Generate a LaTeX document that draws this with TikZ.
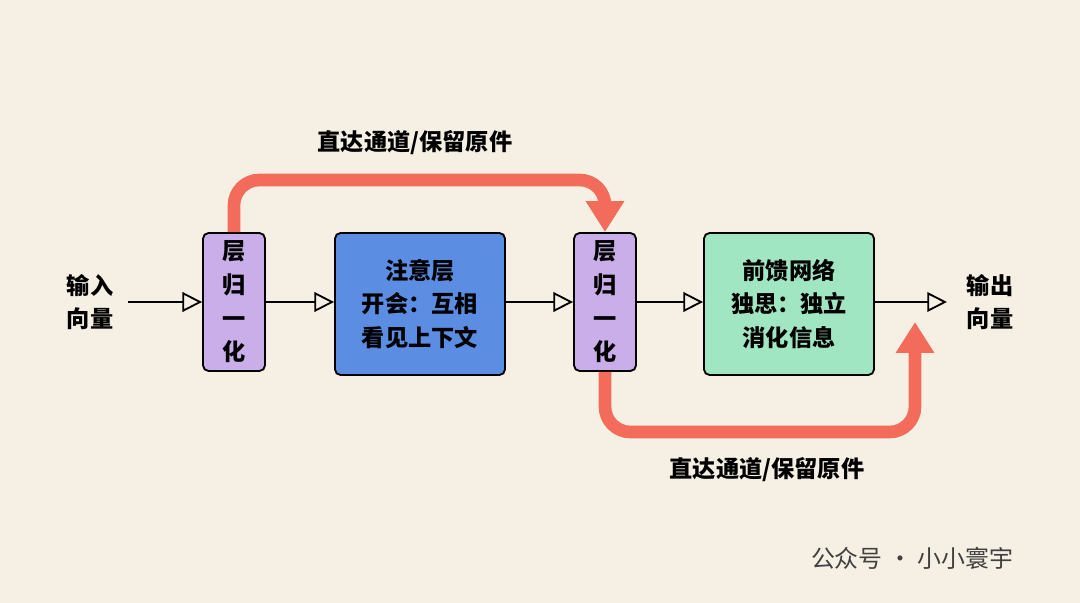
\documentclass[tikz,border=0pt]{standalone}
\usepackage{fontspec}
\newfontfamily\cjk{Noto Sans CJK SC}
\usetikzlibrary{positioning,arrows.meta}
\definecolor{bgc}{HTML}{F6F0E4}
\definecolor{lnc}{HTML}{C9AEEA}
\definecolor{attc}{HTML}{5B8DE2}
\definecolor{ffnc}{HTML}{A0E6C2}
\definecolor{resc}{HTML}{F26B5B}
\tikzset{
  blk/.style={rectangle, rounded corners=4pt, draw=black, line width=1.3pt, align=center, font=\cjk\bfseries\fontsize{16.5}{24}\selectfont},
  lnbox/.style={blk, fill=lnc, minimum width=1.55cm, minimum height=3.45cm},
  mainbox/.style={blk, minimum width=4.25cm, minimum height=3.55cm},
  flow/.style={-{Triangle[open,length=14pt,width=14pt]}, line width=1.3pt},
  res/.style={-{Triangle[length=22pt,width=26pt]}, line width=9pt, draw=resc, rounded corners=18pt},
  lbl/.style={font=\cjk\bfseries\fontsize{16.5}{24}\selectfont, align=center}
}
\begin{document}
\begin{tikzpicture}[x=0.025cm,y=-0.025cm]
\fill[bgc] (0,0) rectangle (1080,603);
\useasboundingbox (0,0) rectangle (1080,603);
% blocks
\node (IN) [lbl] at (90,302) {输入\\向量};
\node (LN1) [lnbox] at (234,302) {层\\归\\一\\化};
\node (ATT) [mainbox, fill=attc] at (420,304) {注意层\\开会：互相\\看见上下文};
\node (LN2) [lnbox] at (605,302) {层\\归\\一\\化};
\node (FFN) [mainbox, fill=ffnc] at (789,304) {前馈网络\\独思：独立\\消化信息};
\node (OUT) [lbl] at (990,302) {输出\\向量};
% main flow
\draw[flow] (IN.east) ++(10,0) coordinate (INe) -- (LN1.west);
\draw[flow] (LN1.east) -- (ATT.west |- LN1.east);
\draw[flow] (ATT.east |- LN2.west) -- (LN2.west);
\draw[flow] (LN2.east) -- (FFN.west |- LN2.east);
\draw[flow] (FFN.east |- OUT.west) -- ++(72,0) coordinate (OUTw);
% residual paths
\coordinate (T1) at (234,180);
\coordinate (B1) at (605,432);
\draw[res] (LN1.north) -- (T1) -| (LN2.north);
\draw[res] (LN2.south) -- (B1) -| (915,322);
\node (R1) [lbl] at (415,143) {直达通道/保留原件};
\node (R2) [lbl] at (767,470) {直达通道/保留原件};
\node (WM) [font=\cjk\fontsize{17}{20}\selectfont, text=black!75] at (912,558) {公众号 · 小小寰宇};
\end{tikzpicture}
\end{document}
